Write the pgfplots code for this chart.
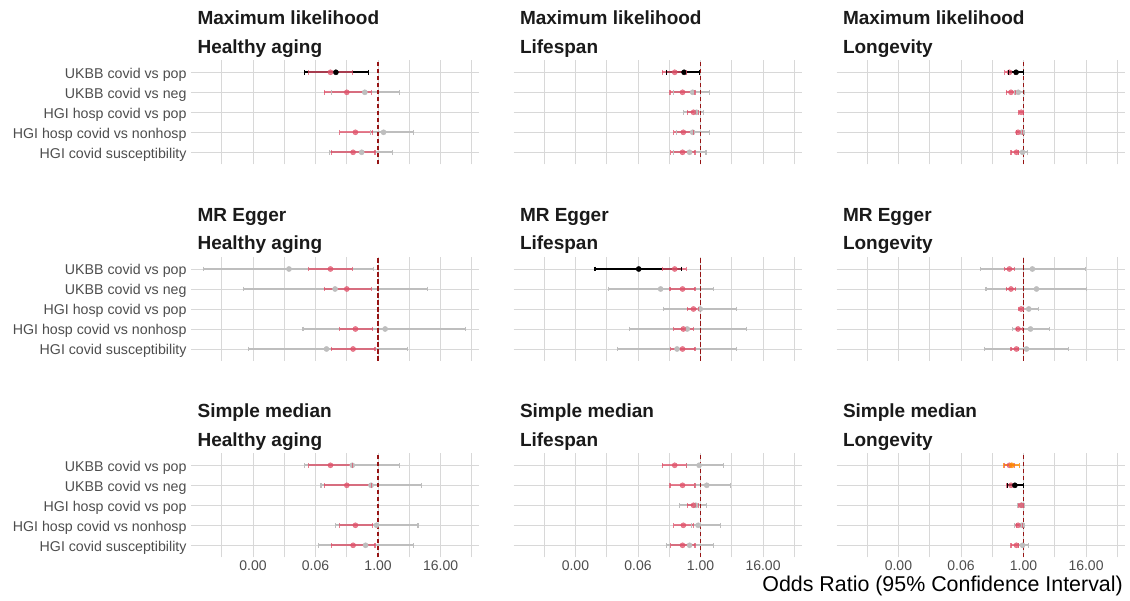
\documentclass[border=0pt]{standalone}
\usepackage{fontspec}
\setmainfont{Liberation Sans}
\usepackage{pgfplots}
\usepackage{pgfplotstable}
\pgfplotsset{compat=1.18}
\definecolor{redc}{RGB}{224,82,106}
\definecolor{grayc}{RGB}{190,190,190}
\definecolor{gridc}{RGB}{216,216,216}
\definecolor{tickc}{RGB}{77,77,77}
\definecolor{titc}{RGB}{26,26,26}
\definecolor{dashc}{RGB}{150,20,20}
\definecolor{orangec}{RGB}{255,140,0}

% Odds ratios (est, lower, upper); plotted on a log2 scale.
% y: 5 UKBB covid vs pop, 4 UKBB covid vs neg, 3 HGI hosp covid vs pop,
%    2 HGI hosp covid vs nonhosp, 1 HGI covid susceptibility
\pgfplotstableread{
y est lo hi
5 0.121 0.0458 0.319
4 0.25 0.0915 0.732
2 0.366 0.183 0.785
1 0.330 0.125 0.871
}\redHA
\pgfplotstableread{
y est lo hi
5 0.319 0.183 0.536
4 0.451 0.259 0.785
3 0.732 0.555 0.933
2 0.467 0.308 0.732
1 0.451 0.268 0.785
}\redLS
\pgfplotstableread{
y est lo hi
5 0.536 0.435 0.660
4 0.574 0.467 0.707
3 0.901 0.812 0.980
2 0.785 0.732 0.940
1 0.732 0.574 0.812
}\redLG
% Maximum likelihood
\pgfplotstableread{
y est lo hi
5 0.154 0.0385 0.660
}\blkMLHA
\pgfplotstableread{
y est lo hi
4 0.555 0.125 2.55
2 1.274 0.707 4.76
1 0.483 0.1166 1.932
}\grayMLHA
\pgfplotstableread{
y est lo hi
5 0.483 0.225 0.966
}\blkMLLS
\pgfplotstableread{
y est lo hi
4 0.707 0.308 1.516
3 0.841 0.467 1.149
2 0.707 0.342 1.464
1 0.616 0.297 1.274
}\grayMLLS
\pgfplotstableread{
y est lo hi
5 0.72 0.507 1.0
}\blkMLLG
\pgfplotstableread{
y est lo hi
4 0.79 0.66 1.065
2 0.933 0.732 1.065
1 0.96 0.812 1.20
}\grayMLLG
% MR Egger
\pgfplotstableread{
y est lo hi
5 0.01923 0.00044 0.812
4 0.1486 0.00258 8.88
2 1.366 0.0359 48.5
1 0.1016 0.00317 3.61
}\grayMRHA
\pgfplotstableread{
y est lo hi
5 0.0647 0.00929 0.435
}\blkMRLS
\pgfplotstableread{
y est lo hi
4 0.171 0.01675 1.803
3 0.986 0.196 4.92
2 0.555 0.0427 7.73
1 0.354 0.0254 4.86
}\grayMRLS
\pgfplotstableread{
y est lo hi
5 1.48 0.1486 15.46
4 1.78 0.1895 16.56
3 1.266 0.966 1.97
2 1.366 0.607 3.14
1 1.14 0.177 7.46
}\grayMRLG
% Simple median
\pgfplotstableread{
y est lo hi
5 0.319 0.0385 2.55
4 0.732 0.0796 6.73
2 0.933 0.154 5.86
1 0.574 0.0718 4.76
}\graySMHA
\pgfplotstableread{
y est lo hi
5 0.94 0.536 2.73
4 1.32 0.758 3.73
3 0.812 0.392 1.32
2 0.901 0.66 2.38
1 0.616 0.225 1.803
}\graySMLS
\pgfplotstableread{
y est lo hi
5 0.595 0.42 0.835
}\orSMLG
\pgfplotstableread{
y est lo hi
4 0.683 0.486 0.986
}\blkSMLG
\pgfplotstableread{
y est lo hi
3 0.933 0.77 1.065
2 0.933 0.66 1.065
1 0.96 0.812 1.231
}\graySMLG

\pgfplotsset{
  fpanel/.style={
    scale only axis, width=288pt, height=104pt, anchor=south west,
    xmin=-11.96, xmax=6.46,
    ymin=0.4, ymax=5.6,
    xtick={-8,-4,0,4},
    minor xtick={-10,-6,-2,2,6},
    ytick={1,2,3,4,5},
    xmajorgrids, xminorgrids, ymajorgrids,
    major grid style={draw=gridc, line width=0.9pt},
    minor grid style={draw=gridc, line width=0.9pt},
    axis line style={draw=none},
    major tick length=0pt, minor tick length=0pt,
    xticklabels={}, yticklabels={},
    xticklabel style={anchor=north, inner sep=0pt, yshift=-3.2pt,
      font=\fontsize{14}{16}\selectfont, text=tickc},
    yticklabel style={anchor=base east, inner sep=0pt, xshift=-4.4pt, yshift=-6pt,
      font=\fontsize{14.2}{16}\selectfont, text=tickc},
    clip=false,
  },
  botrow/.style={xticklabels={0.00,0.06,1.00,16.00}},
  leftcol/.style={yticklabels={HGI covid susceptibility,HGI hosp covid vs nonhosp,HGI hosp covid vs pop,UKBB covid vs neg,UKBB covid vs pop}},
}
% #1 colour, #2 opacity, #3 table: interval line, end caps, point estimate
\newcommand{\ci}[3]{%
  \addplot[only marks, mark=*, mark size=2.6pt, color=#1, opacity=#2,
    mark options={draw=none, fill=#1},
    error bars/x dir=both, error bars/x explicit, error bars/error mark=none,
    error bars/error bar style={line width=1.7pt, #1}]
  table[x expr={ln(\thisrow{est})/0.693147}, y=y,
        x error plus expr={ln(\thisrow{hi}/\thisrow{est})/0.693147},
        x error minus expr={ln(\thisrow{est}/\thisrow{lo})/0.693147}] {#3};
  \addplot[only marks, mark=|, mark size=2.3pt, color=#1, opacity=#2,
    mark options={line width=1.1pt}]
  table[x expr={ln(\thisrow{lo})/0.693147}, y=y] {#3};
  \addplot[only marks, mark=|, mark size=2.3pt, color=#1, opacity=#2,
    mark options={line width=1.1pt}]
  table[x expr={ln(\thisrow{hi})/0.693147}, y=y] {#3};
}
\newcommand{\oneline}{\addplot[dashc, line width=1.3pt, dash pattern=on 4.5pt off 2.5pt] coordinates {(0,0.4) (0,5.6)};}
\newcommand{\ptitle}[3]{\node[anchor=base west, inner sep=0pt, text=titc, font=\fontsize{19}{22}\bfseries] at (#1pt,#2pt) {#3};}

\begin{document}
\begin{tikzpicture}[x=1pt,y=1pt]
\useasboundingbox (0,0) rectangle (1130,600);

% ---------- Row 1: Maximum likelihood ----------
\begin{axis}[fpanel, leftcol, at={(191.1pt,435.7pt)}]
  \ci{grayc}{1}{\grayMLHA}
  \oneline
  \ci{black}{1}{\blkMLHA}
  \ci{redc}{0.75}{\redHA}
\end{axis}
\begin{axis}[fpanel, at={(513.5pt,435.7pt)}]
  \ci{grayc}{1}{\grayMLLS}
  \oneline
  \ci{black}{1}{\blkMLLS}
  \ci{redc}{0.75}{\redLS}
\end{axis}
\begin{axis}[fpanel, at={(836.5pt,435.7pt)}]
  \ci{grayc}{1}{\grayMLLG}
  \oneline
  \ci{redc}{0.75}{\redLG}
  \ci{black}{1}{\blkMLLG}
\end{axis}

% ---------- Row 2: MR Egger ----------
\begin{axis}[fpanel, leftcol, at={(191.1pt,239pt)}]
  \ci{grayc}{1}{\grayMRHA}
  \oneline
  \ci{redc}{0.75}{\redHA}
\end{axis}
\begin{axis}[fpanel, at={(513.5pt,239pt)}]
  \ci{grayc}{1}{\grayMRLS}
  \oneline
  \ci{black}{1}{\blkMRLS}
  \ci{redc}{0.75}{\redLS}
\end{axis}
\begin{axis}[fpanel, at={(836.5pt,239pt)}]
  \ci{grayc}{1}{\grayMRLG}
  \oneline
  \ci{redc}{0.75}{\redLG}
\end{axis}

% ---------- Row 3: Simple median ----------
\begin{axis}[fpanel, leftcol, botrow, at={(191.1pt,42.7pt)}]
  \ci{grayc}{1}{\graySMHA}
  \oneline
  \ci{redc}{0.75}{\redHA}
\end{axis}
\begin{axis}[fpanel, botrow, at={(513.5pt,42.7pt)}]
  \ci{grayc}{1}{\graySMLS}
  \oneline
  \ci{redc}{0.75}{\redLS}
\end{axis}
\begin{axis}[fpanel, botrow, at={(836.5pt,42.7pt)}]
  \ci{grayc}{1}{\graySMLG}
  \oneline
  \ci{redc}{0.75}{\redLG}
  \ci{black}{1}{\blkSMLG}
  \ci{orangec}{0.8}{\orSMLG}
\end{axis}

% ---------- Facet titles ----------
\ptitle{197.4}{575}{Maximum likelihood}
\ptitle{197.4}{546.7}{Healthy aging}
\ptitle{519.8}{575}{Maximum likelihood}
\ptitle{519.8}{546.7}{Lifespan}
\ptitle{842.8}{575}{Maximum likelihood}
\ptitle{842.8}{546.7}{Longevity}

\ptitle{197.4}{378.3}{MR Egger}
\ptitle{197.4}{350}{Healthy aging}
\ptitle{519.8}{378.3}{MR Egger}
\ptitle{519.8}{350}{Lifespan}
\ptitle{842.8}{378.3}{MR Egger}
\ptitle{842.8}{350}{Longevity}

\ptitle{197.4}{182}{Simple median}
\ptitle{197.4}{153.7}{Healthy aging}
\ptitle{519.8}{182}{Simple median}
\ptitle{519.8}{153.7}{Lifespan}
\ptitle{842.8}{182}{Simple median}
\ptitle{842.8}{153.7}{Longevity}

% ---------- x axis title ----------
\node[anchor=base east, inner sep=0pt, font=\fontsize{21.4}{24}\selectfont] at (1123pt,8.3pt) {Odds Ratio (95\% Confidence Interval)};
\end{tikzpicture}
\end{document}
